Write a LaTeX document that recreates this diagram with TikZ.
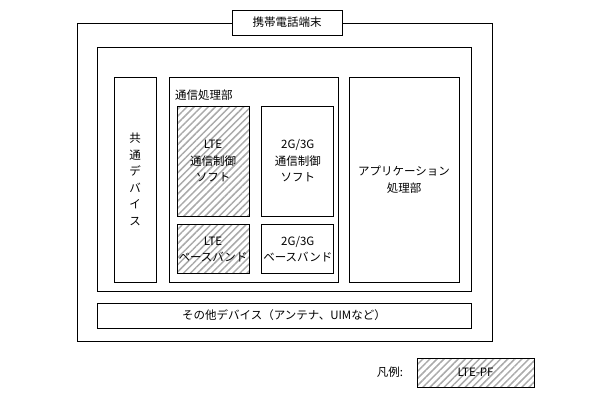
\documentclass[tikz,border=0pt]{standalone}
\usepackage{fontspec}
\newfontfamily\jpfont{Noto Sans CJK JP}
\usepackage{tikz}
\usetikzlibrary{positioning, patterns.meta}
\definecolor{hatch}{RGB}{170, 170, 170}

\begin{document}
\begin{tikzpicture}[
    x=1pt, y=-1pt,
    every node/.style={font=\jpfont\fontsize{11.5}{16.5}\selectfont},
    box/.style={rectangle, draw, line width=0.8pt, inner sep=0pt, align=center},
    ltebox/.style={box, pattern={Lines[angle=45, distance=5pt, line width=1.5pt]}, pattern color=hatch},
    softbox/.style={box, minimum width=72pt, minimum height=110pt},
    bandbox/.style={box, minimum width=72pt, minimum height=49pt},
]
\useasboundingbox (0,0) rectangle (610,400);

% ── Terminal frame ──
\node[box, minimum width=415pt, minimum height=318pt] (terminal) at (284.5,182) {};
\node[box, fill=white, minimum width=110pt, minimum height=25pt] (title) at (287,22.5) {携帯電話端末};

% ── Main board ──
\node[box, minimum width=374pt, minimum height=244pt] (board) at (284,169) {};

% ── Common devices ──
\node[box, minimum width=42pt, minimum height=205pt] (common) at (135,179.5) {共\\通\\デ\\バ\\イ\\ス};

% ── Communication unit ──
\node[box, minimum width=169pt, minimum height=205pt] (comm) at (253.5,179.5) {};
\node[anchor=west, inner sep=0pt] (commlabel) at (175,95) {通信処理部};

\node[ltebox, softbox] (ltesoft) at (213,161) {LTE\\通信制御\\ソフト};
\node[softbox, right=12pt of ltesoft] (gsoft) {2G/3G\\通信制御\\ソフト};
\node[ltebox, bandbox, below=8pt of ltesoft] (lteband) {LTE\\ベースバンド};
\node[bandbox, right=12pt of lteband] (gband) {2G/3G\\ベースバンド};

% ── Application ──
\node[box, minimum width=110pt, minimum height=205pt] (app) at (404,179.5) {アプリケーション\\処理部};

% ── Other devices ──
\node[box, minimum width=374pt, minimum height=25pt] (other) at (284,315.5) {その他デバイス（アンテナ、UIMなど）};

% ── Legend ──
\node[ltebox, minimum width=117pt, minimum height=29pt] (legend) at (475.5,372.5) {LTE-PF};
\node[left=10pt of legend] (legendlabel) {凡例:};

\end{tikzpicture}
\end{document}
